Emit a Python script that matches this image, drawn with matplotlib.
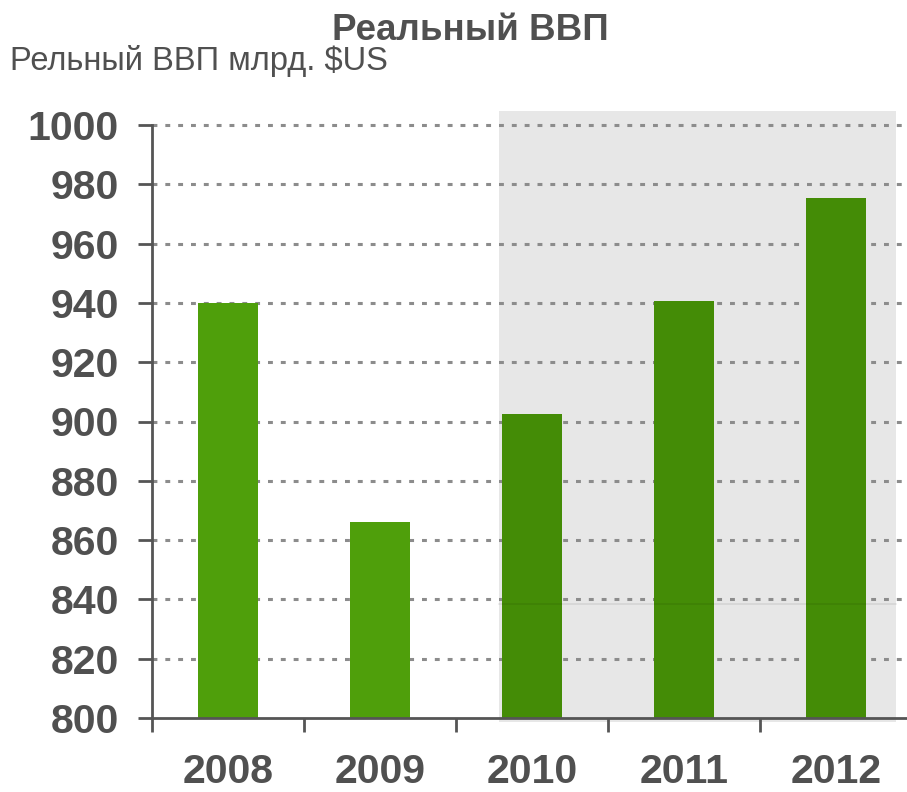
import matplotlib
matplotlib.use("Agg")
import matplotlib.pyplot as plt
from matplotlib.patches import Rectangle

years = ["2008", "2009", "2010", "2011", "2012"]
gdp = [940, 866, 902.5, 940.5, 975.5]
forecast = [False, False, True, True, True]
yticks = [800, 820, 840, 860, 880, 900, 920, 940, 960, 980, 1000]

title = "Реальный ВВП"
subtitle = "Рельный ВВП млрд. $US"

W, H = 907, 792
fig = plt.figure(figsize=(W / 100, H / 100), dpi=100)
plt.rcParams['font.family'] = ['Liberation Sans', 'DejaVu Sans']

ax = fig.add_axes([152 / W, 74 / H, 760 / W, 593 / H])
ax.set_xlim(-0.5, 4.5)
ax.set_ylim(800, 1000)

# shaded forecast region
ax.add_patch(Rectangle((1.783, 798.6), 4.395 - 1.783, 1004.7 - 798.6,
                       facecolor="#e7e7e7", edgecolor="none", zorder=0, clip_on=False))

# gridlines
for v in yticks[1:]:
    ax.axhline(v, color="#8c8c8c", lw=2.2, dashes=(1.6, 2.6), zorder=1, clip_on=False)

colors = ["#448c06" if f else "#4f9f0b" for f in forecast]
x = list(range(len(years)))
ax.bar(x, [g - 800 for g in gdp], bottom=800, width=0.4, color=colors, zorder=2)

# faint line in shaded area
ax.plot([1.783, 4.395], [838.5, 838.5], color="#000000", alpha=0.08, lw=1.2, zorder=3)

for s in ["top", "right"]:
    ax.spines[s].set_visible(False)
for s in ["left", "bottom"]:
    ax.spines[s].set_color("#555555")
    ax.spines[s].set_linewidth(2)

ax.set_yticks(yticks)
ax.set_yticklabels([str(v) for v in yticks], fontsize=29.5, fontweight="bold", color="#505050")
ax.set_xticks([i - 0.5 for i in range(6)])
ax.set_xticklabels([])
ax.set_xticks(x, minor=True)
ax.set_xticklabels(years, minor=True, fontsize=29.5, fontweight="bold", color="#505050")
ax.tick_params(axis="y", length=10, width=2, color="#555555", pad=14)
ax.tick_params(axis="x", which="major", length=10, width=2, color="#555555", direction="out")
ax.tick_params(axis="x", which="minor", length=0, pad=25)

fig.text(470 / W, 1 - 31 / H, title, ha="center", va="center", fontsize=26.5,
         fontweight="bold", color="#505050")
fig.text(10 / W, 1 - 61 / H, subtitle, ha="left", va="center", fontsize=23.5,
         color="#505050")

fig.savefig("out.png", dpi=100)
